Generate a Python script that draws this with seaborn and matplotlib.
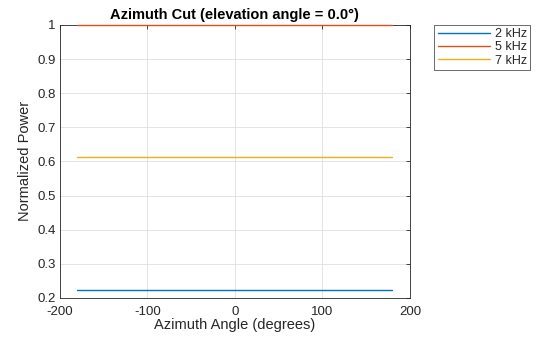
import matplotlib
matplotlib.use("Agg")
import matplotlib.pyplot as plt
import seaborn as sns
import pandas as pd

azimuth = [-180, -90, 0, 90, 180]
power_2k = [0.222, 0.222, 0.222, 0.222, 0.222]
power_5k = [1.0, 1.0, 1.0, 1.0, 1.0]
power_7k = [0.614, 0.614, 0.614, 0.614, 0.614]
labels = ["2 kHz", "5 kHz", "7 kHz"]
colors = ["#0072BD", "#D95319", "#EDB120"]

df = pd.DataFrame({
    "az": azimuth * 3,
    "p": power_2k + power_5k + power_7k,
    "f": [labels[0]] * 5 + [labels[1]] * 5 + [labels[2]] * 5,
})

sns.set_style("white")
plt.rcParams["font.family"] = ["Arial", "Liberation Sans", "DejaVu Sans"]
plt.rcParams["axes.unicode_minus"] = False

fig = plt.figure(figsize=(5.6, 3.37), dpi=100)
ax = fig.add_axes([0.107, 0.116, 0.625, 0.810])
sns.lineplot(data=df, x="az", y="p", hue="f", palette=colors, ax=ax,
             linewidth=1.0, legend=True)
for ln in ax.lines:
    ln.set_clip_on(False)
    ln.set_zorder(5)

ax.set_xlim(-200, 200)
ax.set_ylim(0.2, 1.0)
ax.set_xticks([-200, -100, 0, 100, 200])
ax.set_yticks([0.2, 0.3, 0.4, 0.5, 0.6, 0.7, 0.8, 0.9, 1.0])
ax.set_yticklabels(["0.2", "0.3", "0.4", "0.5", "0.6", "0.7", "0.8", "0.9", "1"])
ax.grid(True, color="#DFDFDF", linewidth=0.6)
ax.set_axisbelow(True)
for s in ax.spines.values():
    s.set_color("#262626")
    s.set_linewidth(0.6)
    s.set_zorder(2)
ax.tick_params(axis="both", labelsize=9.5, colors="#262626", direction="in",
               length=3, width=0.6, top=True, right=True)
ax.tick_params(axis="x", pad=6)
ax.tick_params(axis="y", pad=3)
ax.set_xlabel("Azimuth Angle (degrees)", fontsize=10.5, color="#262626", labelpad=0)
ax.set_ylabel("Normalized Power", fontsize=10.5, color="#262626", labelpad=4)
ax.set_title("Azimuth Cut (elevation angle = 0.0°)", fontsize=10.5,
             fontweight="bold", color="#000000", pad=4)

leg = ax.legend(loc="upper left", bbox_to_anchor=(1.07, 1.0), fontsize=9,
                frameon=True, fancybox=False, borderaxespad=0,
                handlelength=4.2, handletextpad=0.4, labelspacing=0.1,
                borderpad=0.25)
leg.get_frame().set_edgecolor("#262626")
leg.get_frame().set_linewidth(0.6)
for l in leg.get_lines():
    l.set_linewidth(1.0)

fig.savefig("out.png", dpi=100)
